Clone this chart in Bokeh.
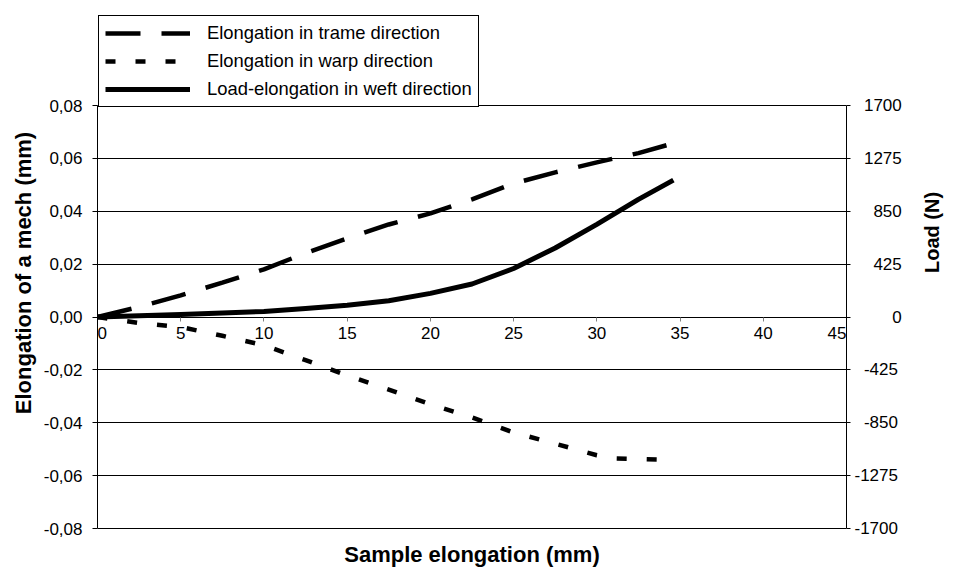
import math
from bokeh.plotting import figure
from bokeh.models import (LinearAxis, Range1d, FixedTicker, CustomJSTickFormatter,
                          Legend, LegendItem)
from bokeh.embed import file_html
from bokeh.resources import INLINE

# ---- data ----
trame_x = [0, 2.5, 5, 7.5, 10, 12.5, 15, 17.5, 20, 22.5, 25, 27.5, 30, 32.5, 34.6]
trame_y = [0, 0.0038, 0.0082, 0.013, 0.018, 0.0242, 0.0297, 0.035, 0.0392, 0.0445,
           0.0505, 0.0547, 0.0585, 0.0620, 0.0657]

warp_x = [0, 2.5, 5, 7.5, 10, 12.5, 15, 17.5, 20, 22.5, 25, 27.5, 30, 31, 34.6]
warp_y = [0, -0.0023, -0.0038, -0.0071, -0.0107, -0.0163, -0.0221, -0.0275, -0.033,
          -0.038, -0.0437, -0.0479, -0.0523, -0.0535, -0.054]

weft_x = [0, 2.5, 5, 7.5, 10, 12.5, 15, 17.5, 20, 22.5, 25, 27.5, 30, 32.5, 34.6]
weft_load = [0, 10, 20, 32, 45, 68, 95, 130, 190, 265, 390, 555, 745, 945, 1100]

x_ticks = [0, 5, 10, 15, 20, 25, 30, 35, 40, 45]
y_ticks = [-0.08, -0.06, -0.04, -0.02, 0, 0.02, 0.04, 0.06, 0.08]
load_ticks = [-1700, -1275, -850, -425, 0, 425, 850, 1275, 1700]

labels = ["Elongation in trame direction", "Elongation in warp direction",
          "Load-elongation in weft direction"]

FONT = "Liberation Sans"
FS = "\u2007"  # figure space, used only to nudge tick label alignment

# layout: the frame also holds the legend strip above the 0.08 line,
# plus a few pixels below -0.08 so that the bottom grid line is not clipped
W, H = 956, 571
TOP, BOTTOM, LEFT, RIGHT = 14, 40, 97, 110
AXIS_PX = 423                      # pixel height of the -0.08 .. 0.08 axis span
PAD_PX = 3                         # pixels of frame below the -0.08 line
frame_h = H - TOP - BOTTOM
y_lo, y_hi = y_ticks[0], y_ticks[-1]
l_lo, l_hi = load_ticks[0], load_ticks[-1]


def stretched(lo, hi):
    per_px = (hi - lo) / AXIS_PX
    start = lo - PAD_PX * per_px
    return Range1d(start, start + frame_h * per_px)


p = figure(width=W, height=H, x_range=Range1d(x_ticks[0], x_ticks[-1]),
           y_range=stretched(y_lo, y_hi),
           output_backend="svg", toolbar_location=None,
           min_border_left=LEFT, min_border_right=RIGHT, min_border_top=TOP,
           min_border_bottom=BOTTOM,
           background_fill_color="white", border_fill_color="white")
p.outline_line_color = None

p.extra_y_ranges = {"load": stretched(l_lo, l_hi)}

# grid
p.xgrid.visible = False
yt = FixedTicker(ticks=y_ticks)
p.ygrid.ticker = yt
p.ygrid.grid_line_color = "black"
p.ygrid.grid_line_width = 1

# left axis
ya = p.yaxis[0]
ya.ticker = yt
ya.bounds = (y_lo, y_hi)
ya.formatter = CustomJSTickFormatter(code="return tick.toFixed(2).replace('.', ',')")
ya.axis_label = "Elongation of a mech (mm)"
ya.axis_label_text_font = FONT
ya.axis_label_text_font_style = "bold"
ya.axis_label_text_font_size = "22px"
ya.axis_label_text_color = "black"
ya.axis_label_standoff = 5
ya.major_label_text_font = FONT
ya.major_label_text_font_size = "17px"
ya.major_label_text_color = "black"
ya.major_label_standoff = 10
ya.major_tick_in = 0
ya.major_tick_out = 5
ya.minor_tick_line_color = None
ya.axis_line_color = "black"
ya.major_tick_line_color = "black"

# x axis crossing at y = 0
xa = p.xaxis[0]
xa.ticker = FixedTicker(ticks=x_ticks)
xa.fixed_location = 0
xa.major_label_overrides = {0: FS + "0", 45: "45" + FS + FS}
xa.major_label_text_font = FONT
xa.major_label_text_font_size = "17px"
xa.major_label_text_color = "black"
xa.major_label_standoff = 3
xa.major_tick_in = 0
xa.major_tick_out = 4
xa.major_tick_line_color = "#808080"
xa.minor_tick_line_color = None
xa.axis_line_color = "black"

# x axis title at the bottom
xt = LinearAxis(ticker=FixedTicker(ticks=[]), axis_label="Sample elongation (mm)",
                axis_line_color=None, major_tick_line_color=None, minor_tick_line_color=None,
                major_label_text_font_size="0px", axis_label_standoff=10,
                axis_label_text_font=FONT, axis_label_text_font_style="bold",
                axis_label_text_font_size="22px", axis_label_text_color="black")
p.add_layout(xt, "below")

# right axis (labels padded so that they line up on the right like the reference)
ra = LinearAxis(y_range_name="load", ticker=FixedTicker(ticks=load_ticks),
                bounds=(l_lo, l_hi),
                formatter=CustomJSTickFormatter(
                    code="let s = tick.toFixed(0); while (s.length < 5) { s = '\u2007' + s; } return s;"),
                axis_label="Load (N)", axis_label_orientation=math.pi / 2,
                axis_label_text_font=FONT, axis_label_text_font_style="bold",
                axis_label_text_font_size="20px", axis_label_text_color="black",
                axis_label_standoff=27,
                major_label_text_font=FONT, major_label_text_font_size="17px",
                major_label_text_color="black", major_label_standoff=4,
                major_tick_in=0, major_tick_out=4, minor_tick_line_color=None,
                axis_line_color="black", major_tick_line_color="black")
p.add_layout(ra, "right")

# series
r1 = p.line(trame_x, trame_y, line_color="black", line_width=4.5, line_dash="35 21")
r2 = p.line(warp_x, warp_y, line_color="black", line_width=4.5, line_dash="10 20")
r3 = p.line(weft_x, weft_load, y_range_name="load", line_color="black", line_width=5,
            line_join="round")

legend = Legend(items=[LegendItem(label=labels[0], renderers=[r1]),
                       LegendItem(label=labels[1], renderers=[r2]),
                       LegendItem(label=labels[2], renderers=[r3])],
                location="top_left", orientation="vertical",
                padding=6, spacing=6, margin=1,
                glyph_width=85, glyph_height=22, label_height=22, label_standoff=17,
                label_text_font=FONT, label_text_font_size="18.4px", label_text_color="black",
                border_line_color="black", border_line_width=1, border_line_alpha=1.0,
                background_fill_color="white", background_fill_alpha=1.0)
p.add_layout(legend)

open("out.html", "w").write(file_html(p, INLINE))
